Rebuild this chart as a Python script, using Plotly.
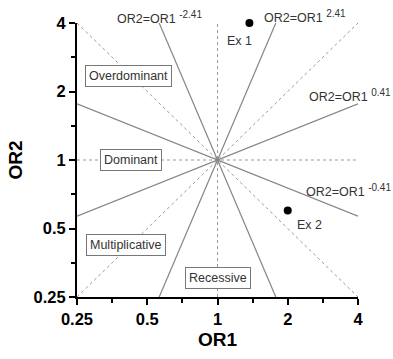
import numpy as np
import plotly.graph_objects as go

# ---- data ----
exponents = [2.41, -2.41, 0.41, -0.41]          # solid model lines OR2 = OR1^k
exp_labels = ["2.41", "-2.41", "0.41", "-0.41"]
ref_exponents = [1.0, -1.0, 0.0]                 # dashed reference lines
ex_names = ["Ex 1", "Ex 2"]
ex_or1 = [1.37, 2.0]
ex_or2 = [4.0, 0.6]
region_names = ["Overdominant", "Dominant", "Multiplicative", "Recessive"]
tick_vals = [0.25, 0.5, 1, 2, 4]
tick_text = ["0.25", "0.5", "1", "2", "4"]
minor_vals = [0.25 * 2 ** 0.5, 0.5 * 2 ** 0.5, 2 ** 0.5, 2 * 2 ** 0.5]

LO, HI = 0.25, 4.0
L2 = np.log2(HI)  # 2

def seg(k):
    u = min(L2, L2 / abs(k)) if k != 0 else L2
    us = np.array([-u, u])
    return 2.0 ** us, 2.0 ** (k * us)

fig = go.Figure()

# dashed reference lines
for k in ref_exponents:
    x, y = seg(k)
    fig.add_trace(go.Scatter(x=x, y=y, mode="lines",
                             line=dict(color="#9a9a9a", width=1, dash="3px,3px"),
                             hoverinfo="skip", showlegend=False))
fig.add_trace(go.Scatter(x=[1, 1], y=[LO, HI], mode="lines",
                         line=dict(color="#9a9a9a", width=1, dash="3px,3px"),
                         hoverinfo="skip", showlegend=False))

# solid model lines
for k in exponents:
    x, y = seg(k)
    fig.add_trace(go.Scatter(x=x, y=y, mode="lines",
                             line=dict(color="#858585", width=1.2),
                             hoverinfo="skip", showlegend=False))

# example points
fig.add_trace(go.Scatter(x=ex_or1, y=ex_or2, mode="markers",
                         marker=dict(color="black", size=8),
                         cliponaxis=False, hoverinfo="skip", showlegend=False))

X0, X1, Y0, Y1 = 77, 358, 23, 303  # plot area in pixels

def px2paper(px, py):
    return (px - X0) / (X1 - X0), (Y1 - py) / (Y1 - Y0)

txtfont = dict(family="Liberation Sans, Arial", size=12.5, color="#333333")
annotations = []

# line labels: (x, y, anchor)
label_pos = {"-2.41": (115, 17, "left"), "2.41": (262, 16, "left"),
             "0.41": (393, 97, "right"), "-0.41": (393, 194, "right")}
for lab in exp_labels:
    px, py, anc = label_pos[lab]
    x, y = px2paper(px, py)
    annotations.append(dict(x=x, y=y, xref="paper", yref="paper", xanchor=anc, yanchor="middle",
                            text="OR2=OR1 <sup><span style='font-size:10px'>" + lab + "</span></sup>",
                            showarrow=False, font=txtfont))

# example labels
ex_lab_pos = [(225, 41), (295, 229)]
for name, (px, py) in zip(ex_names, ex_lab_pos):
    x, y = px2paper(px, py)
    annotations.append(dict(x=x, y=y, xref="paper", yref="paper", xanchor="left", yanchor="middle",
                            text=name, showarrow=False, font=txtfont))

# region boxes
box_pos = [(128.5, 77), (131, 163.5), (125.5, 250), (218, 283.5)]
for name, (px, py) in zip(region_names, box_pos):
    x, y = px2paper(px, py)
    annotations.append(dict(x=x, y=y, xref="paper", yref="paper", xanchor="center", yanchor="middle",
                            text=name, showarrow=False,
                            font=dict(family="Liberation Sans, Arial", size=12.5, color="#333333"),
                            bgcolor="white", bordercolor="#777777", borderwidth=1, borderpad=3))

axis_common = dict(
    type="log", range=[np.log10(LO), np.log10(HI)],
    tickmode="array", tickvals=tick_vals, ticktext=tick_text,
    ticks="outside", ticklen=6, tickwidth=2, tickcolor="black",
    showline=True, linewidth=2, linecolor="black",
    showgrid=False, zeroline=False,
    tickfont=dict(family="Liberation Sans, Arial", size=16.5, color="black", weight="bold"),
    minor=dict(tickmode="array", tickvals=minor_vals, ticks="outside", ticklen=4,
               tickwidth=2, tickcolor="black", showgrid=False),
)

fig.update_layout(
    width=393, height=359,
    margin=dict(l=77, r=35, t=23, b=56),
    paper_bgcolor="white", plot_bgcolor="white",
    xaxis=dict(**axis_common,
               title=dict(text="OR1", standoff=6,
                          font=dict(family="Liberation Sans, Arial", size=19, color="black", weight="bold"))),
    yaxis=dict(**axis_common,
               title=dict(text="OR2", standoff=6,
                          font=dict(family="Liberation Sans, Arial", size=19, color="black", weight="bold"))),
    annotations=annotations,
)

fig.write_html("out.html")
